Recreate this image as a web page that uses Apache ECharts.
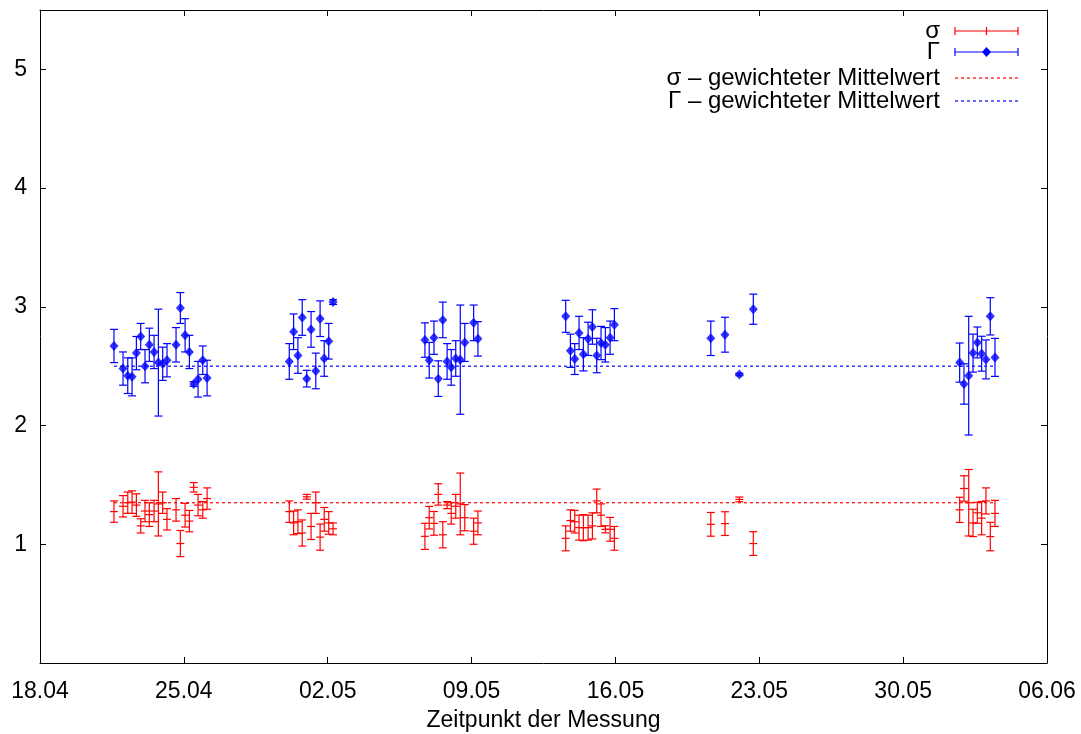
<!DOCTYPE html>
<html><head><meta charset="utf-8">
<script src="https://cdn.jsdelivr.net/npm/echarts@6/dist/echarts.min.js"></script>
<style>html,body{margin:0;padding:0;background:#fff}#c{width:1081px;height:734px}</style>
</head><body><div id="c"></div>
<script>
// x tick labels (every 7 days starting 18.04)
const xTickLabels = ['18.04','25.04','02.05','09.05','16.05','23.05','30.05','06.06'];
// measurement time in days after 18.04
const days = [
  3.60,4.04,4.27,4.48,4.69,4.90,5.11,5.32,5.55,5.76,5.97,6.18,6.62,6.83,7.06,7.27,7.48,7.69,7.92,8.13,
  12.13,12.34,12.55,12.76,12.98,13.19,13.42,13.63,13.83,14.05,14.26,
  18.73,18.94,19.17,19.38,19.60,19.81,20.01,20.23,20.45,20.67,21.10,21.31,
  25.58,25.81,26.02,26.23,26.44,26.67,26.88,27.09,27.30,27.51,27.74,27.95,
  32.64,33.33,34.03,34.71,
  44.75,44.96,45.19,45.40,45.61,45.82,46.03,46.24,46.47
];
const sigmaValues = [
  1.275,1.32,1.35,1.355,1.33,1.155,1.28,1.25,1.28,1.34,1.35,1.21,1.29,1.006,1.245,1.195,1.48,1.33,1.29,1.385,
  1.275,1.18,1.19,1.095,1.40,1.15,1.35,1.06,1.21,1.18,1.13,
  1.067,1.224,1.176,1.42,1.08,1.33,1.26,1.32,1.34,1.224,1.11,1.18,
  1.05,1.20,1.19,1.14,1.14,1.14,1.155,1.365,1.245,1.126,1.126,1.05,
  1.168,1.174,1.378,1.006,
  1.29,1.47,1.35,1.18,1.265,1.22,1.365,1.065,1.26
];
const sigmaErrors = [
  0.09,0.09,0.09,0.095,0.095,0.06,0.09,0.10,0.09,0.27,0.09,0.09,0.095,0.11,0.10,0.09,0.04,0.09,0.07,0.09,
  0.09,0.10,0.10,0.11,0.02,0.11,0.09,0.11,0.10,0.095,0.05,
  0.11,0.095,0.10,0.09,0.11,0.03,0.09,0.10,0.26,0.11,0.11,0.10,
  0.105,0.09,0.095,0.105,0.11,0.105,0.11,0.10,0.095,0.03,0.10,0.10,
  0.10,0.10,0.02,0.10,
  0.106,0.107,0.28,0.115,0.088,0.14,0.11,0.12,0.11
];
const gammaValues = [
  2.67,2.48,2.42,2.41,2.61,2.75,2.50,2.68,2.62,2.53,2.52,2.55,2.68,2.99,2.76,2.62,2.35,2.39,2.55,2.40,
  2.54,2.79,2.59,2.91,2.395,2.81,2.46,2.90,2.565,2.71,3.04,
  2.72,2.55,2.74,2.395,2.89,2.54,2.49,2.565,2.555,2.70,2.865,2.73,
  2.92,2.63,2.56,2.78,2.60,2.73,2.83,2.59,2.695,2.68,2.74,2.85,
  2.735,2.765,2.43,2.98,
  2.53,2.35,2.42,2.61,2.70,2.605,2.557,2.92,2.574
];
const gammaErrors = [
  0.14,0.14,0.15,0.16,0.14,0.11,0.14,0.14,0.14,0.45,0.14,0.14,0.145,0.13,0.14,0.14,0.02,0.15,0.12,0.15,
  0.15,0.15,0.15,0.15,0.07,0.15,0.15,0.15,0.15,0.15,0.02,
  0.145,0.15,0.14,0.15,0.15,0.15,0.15,0.15,0.46,0.16,0.15,0.145,
  0.135,0.14,0.13,0.14,0.14,0.14,0.145,0.145,0.14,0.145,0.14,0.135,
  0.145,0.147,0.01,0.127,
  0.165,0.17,0.50,0.16,0.13,0.147,0.164,0.157,0.16
];
const sigmaMean = 1.35;
const gammaMean = 2.5;
const legendNames = ['σ','Γ','σ – gewichteter Mittelwert','Γ – gewichteter Mittelwert'];

const RED = '#ff0000', BLUE = '#0000ff';
const FONT = '"Liberation Sans", Arial, Helvetica, sans-serif';

function errRender(color, centerTick) {
  return function (params, api) {
    const x = api.value(0), y = api.value(1), e = api.value(2);
    const t = api.coord([x, y + e]), b = api.coord([x, y - e]), c = api.coord([x, y]);
    const hw = 4;
    const style = { stroke: color, lineWidth: 1.2 };
    const ch = [
      { type: 'line', shape: { x1: t[0], y1: t[1], x2: b[0], y2: b[1] }, style },
      { type: 'line', shape: { x1: t[0] - hw, y1: t[1], x2: t[0] + hw, y2: t[1] }, style },
      { type: 'line', shape: { x1: b[0] - hw, y1: b[1], x2: b[0] + hw, y2: b[1] }, style }
    ];
    if (centerTick) ch.push({ type: 'line', shape: { x1: c[0] - hw, y1: c[1], x2: c[0] + hw, y2: c[1] }, style });
    return { type: 'group', children: ch };
  };
}

const sigmaData = days.map((d, i) => [d, sigmaValues[i], sigmaErrors[i]]);
const gammaData = days.map((d, i) => [d, gammaValues[i], gammaErrors[i]]);
const dFirst = days[0], dLast = days[days.length - 1];

// legend graphic
const LX1 = 955, LX2 = 1018, LTX = 940;
const legendRows = [31, 52, 78, 101];
const gl = [];
legendNames.forEach((n, i) => {
  gl.push({ type: 'text', right: 1081 - LTX, top: legendRows[i] - 12,
    style: { text: n, font: '24px ' + FONT, fill: '#000', textAlign: 'right' } });
});
function ebSample(y, color, kind) {
  const s = { stroke: color, lineWidth: 1.2 };
  gl.push({ type: 'line', shape: { x1: LX1, y1: y, x2: LX2, y2: y }, style: s });
  gl.push({ type: 'line', shape: { x1: LX1, y1: y - 4, x2: LX1, y2: y + 4 }, style: s });
  gl.push({ type: 'line', shape: { x1: LX2, y1: y - 4, x2: LX2, y2: y + 4 }, style: s });
  const mx = (LX1 + LX2) / 2;
  if (kind === 'plus') gl.push({ type: 'line', shape: { x1: mx, y1: y - 4, x2: mx, y2: y + 4 }, style: s });
  else gl.push({ type: 'polygon', shape: { points: [[mx, y - 5], [mx + 4.5, y], [mx, y + 5], [mx - 4.5, y]] }, style: { fill: color } });
}
ebSample(legendRows[0], RED, 'plus');
ebSample(legendRows[1], BLUE, 'diamond');
gl.push({ type: 'line', shape: { x1: LX1, y1: legendRows[2], x2: LX2, y2: legendRows[2] }, style: { stroke: RED, lineWidth: 1.2, lineDash: [3, 3] } });
gl.push({ type: 'line', shape: { x1: LX1, y1: legendRows[3], x2: LX2, y2: legendRows[3] }, style: { stroke: BLUE, lineWidth: 1.2, lineDash: [3, 3] } });

const axisLine = { show: true, onZero: false, lineStyle: { color: '#000', width: 1 } };
const axisTick = { show: true, inside: true, length: 6, lineStyle: { color: '#000' } };

const chart = echarts.init(document.getElementById('c'), null, { renderer: 'canvas' });
chart.setOption({
  animation: false,
  backgroundColor: '#fff',
  textStyle: { fontFamily: FONT },
  grid: { left: 40, right: 34, top: 10, bottom: 71, containLabel: false, outerBoundsMode: 'none' },
  xAxis: [
    { type: 'value', min: 0, max: 49, interval: 7, position: 'bottom',
      axisLine, axisTick, splitLine: { show: false },
      axisLabel: { fontSize: 23, color: '#000', margin: 17, fontFamily: FONT,
        formatter: v => xTickLabels[Math.round(v / 7)] || '' },
      name: 'Zeitpunkt der Messung', nameLocation: 'middle', nameGap: 46,
      nameTextStyle: { fontSize: 23, color: '#000', fontFamily: FONT } },
    { type: 'value', min: 0, max: 49, interval: 7, position: 'top',
      axisLine, axisTick, axisLabel: { show: false }, splitLine: { show: false } }
  ],
  yAxis: [
    { type: 'value', min: 0, max: 5.5, interval: 1, position: 'left',
      axisLine, axisTick, splitLine: { show: false },
      axisLabel: { fontSize: 23, color: '#000', margin: 13, fontFamily: FONT,
        formatter: v => (v > 0 && Number.isInteger(v)) ? String(v) : '' } },
    { type: 'value', min: 0, max: 5.5, interval: 1, position: 'right',
      axisLine, axisTick, axisLabel: { show: false }, splitLine: { show: false } }
  ],
  series: [
    { type: 'line', data: [[dFirst, gammaMean], [dLast, gammaMean]], symbol: 'none',
      lineStyle: { color: BLUE, width: 1.2, type: [3, 3] }, z: 1 },
    { type: 'line', data: [[dFirst, sigmaMean], [dLast, sigmaMean]], symbol: 'none',
      lineStyle: { color: RED, width: 1.2, type: [3, 3] }, z: 1 },
    { type: 'custom', data: sigmaData, renderItem: errRender(RED, true), z: 3 },
    { type: 'custom', data: gammaData, renderItem: errRender(BLUE, false), z: 3 },
    { type: 'scatter', data: gammaData.map(d => [d[0], d[1]]), symbol: 'diamond', symbolSize: [9, 10],
      itemStyle: { color: BLUE }, z: 4 }
  ],
  graphic: gl
});
</script></body></html>
